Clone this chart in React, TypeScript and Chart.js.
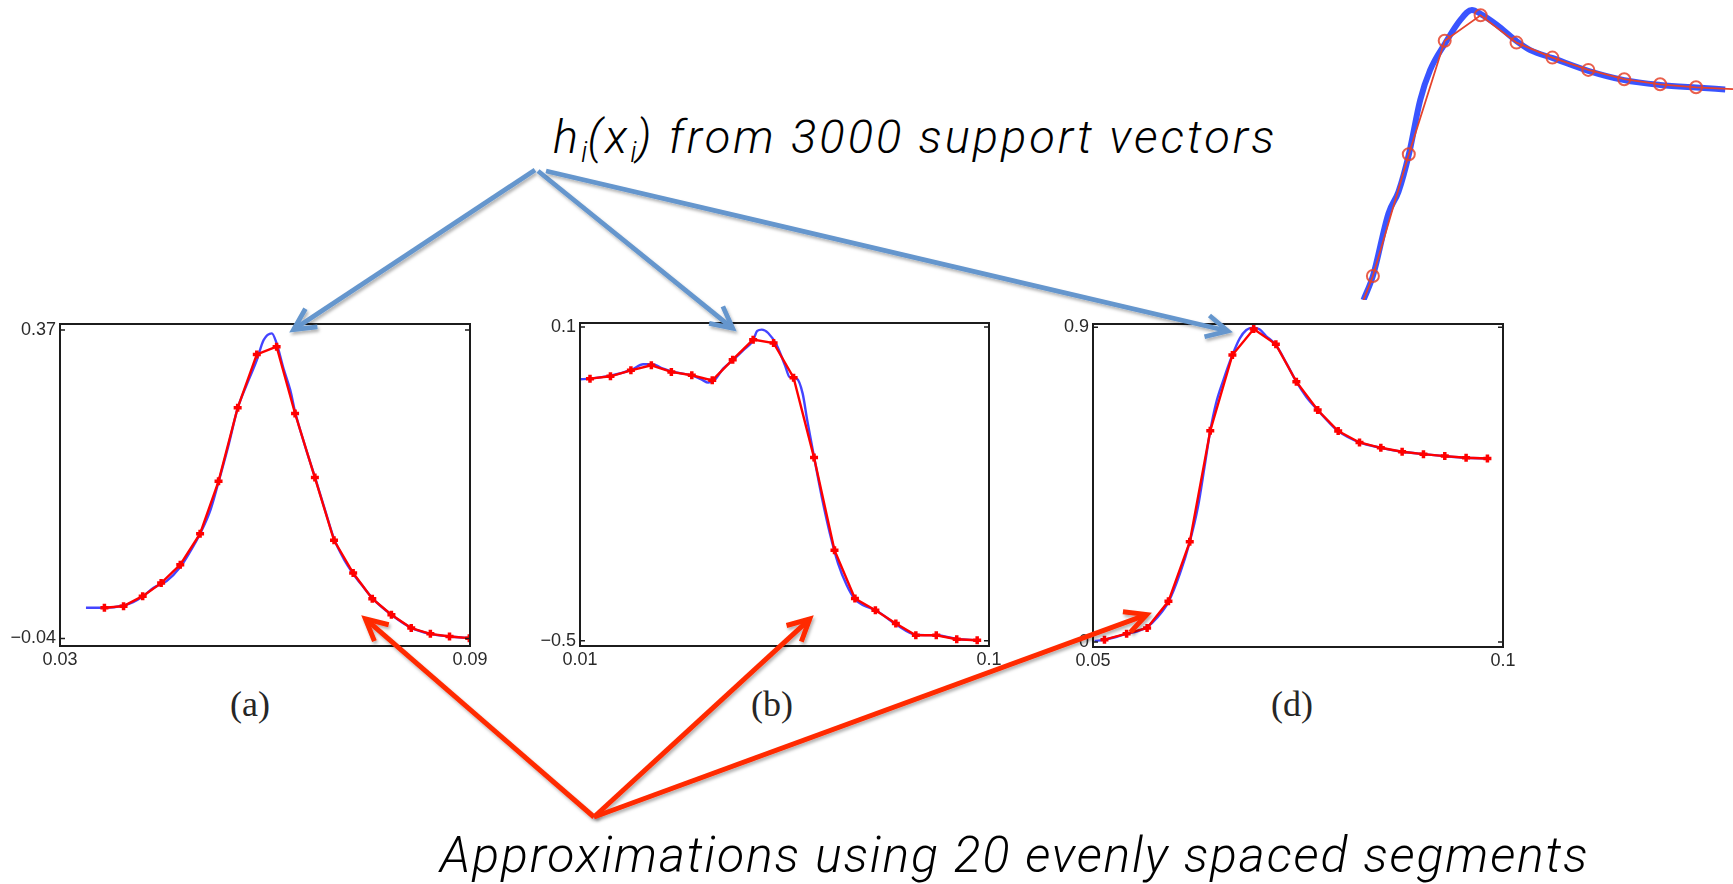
import React, { useEffect, useRef } from "react";
import { Chart, registerables } from "chart.js";

Chart.register(...registerables);

// ---------- Panel (a) ----------
const aBlueX = [0.0338, 0.0365, 0.0393, 0.0407, 0.0421, 0.0437, 0.0456, 0.0476, 0.049, 0.0505, 0.052, 0.0532, 0.0546, 0.056, 0.0573, 0.0588, 0.0598, 0.061, 0.0617, 0.0627, 0.0637, 0.0644, 0.0659, 0.0673, 0.0688, 0.0701, 0.0715, 0.0729, 0.0744, 0.0757, 0.0785, 0.0814, 0.0842, 0.087, 0.0899];
const aBlueY = [0.0007, 0.0007, 0.0038, 0.0083, 0.0158, 0.0273, 0.0362, 0.0549, 0.0748, 0.0993, 0.1303, 0.168, 0.2147, 0.2657, 0.2968, 0.3301, 0.3567, 0.3656, 0.3522, 0.319, 0.2901, 0.2613, 0.2147, 0.1747, 0.1303, 0.0926, 0.066, 0.046, 0.0282, 0.0136, -0.0086, -0.0259, -0.0339, -0.0375, -0.0397];
const aRedX = [0.0365, 0.0393, 0.0421, 0.0448, 0.0476, 0.0505, 0.0532, 0.056, 0.0588, 0.0617, 0.0644, 0.0673, 0.0701, 0.0729, 0.0757, 0.0785, 0.0814, 0.0842, 0.087, 0.0899];
const aRedY = [0.0007, 0.0029, 0.0162, 0.0335, 0.058, 0.0992, 0.1689, 0.2666, 0.3376, 0.3478, 0.259, 0.1738, 0.0904, 0.0469, 0.0127, -0.0086, -0.0263, -0.0339, -0.0375, -0.0397];
const aXTicks = [0.03, 0.09];
const aYTicks = [-0.04, 0.37];

// ---------- Panel (b) ----------
const bBlueX = [0.01, 0.0122, 0.0167, 0.0214, 0.0239, 0.0259, 0.0283, 0.0303, 0.0347, 0.0368, 0.0382, 0.0397, 0.0415, 0.0436, 0.0459, 0.0481, 0.049, 0.05, 0.0514, 0.0533, 0.0551, 0.0561, 0.0577, 0.059, 0.06, 0.0613, 0.0632, 0.065, 0.0668, 0.0687, 0.0704, 0.0723, 0.0751, 0.0795, 0.0839, 0.0885, 0.0929, 0.0974];
const bBlueY = [-0.0001, 0.0012, 0.0069, 0.0184, 0.0286, 0.0286, 0.0203, 0.0146, 0.0069, -0.0007, -0.0064, -0.0007, 0.0203, 0.0363, 0.0554, 0.0745, 0.0924, 0.0949, 0.0885, 0.0649, 0.0267, 0.0044, 0.0012, -0.0275, -0.0785, -0.139, -0.225, -0.2952, -0.3525, -0.3939, -0.4194, -0.4322, -0.4417, -0.4685, -0.4883, -0.4895, -0.4966, -0.4991];
const bRedX = [0.0122, 0.0167, 0.0212, 0.0257, 0.0301, 0.0346, 0.0391, 0.0436, 0.0481, 0.0526, 0.057, 0.0615, 0.066, 0.0705, 0.075, 0.0795, 0.0839, 0.0884, 0.0929, 0.0974];
const bRedY = [0.0012, 0.0057, 0.0171, 0.0267, 0.014, 0.0076, -0.002, 0.0375, 0.0758, 0.0694, 0.0031, -0.1498, -0.327, -0.4194, -0.4417, -0.4672, -0.4895, -0.4895, -0.4972, -0.4991];
const bXTicks = [0.01, 0.1];
const bYTicks = [-0.5, 0.1];

// ---------- Panel (d) ----------
const dBlueX = [0.0502, 0.0514, 0.0528, 0.0541, 0.0554, 0.0566, 0.0579, 0.0592, 0.0606, 0.0618, 0.0628, 0.0636, 0.0643, 0.065, 0.0659, 0.067, 0.0679, 0.0687, 0.0695, 0.0703, 0.0711, 0.0723, 0.0736, 0.0748, 0.076, 0.0774, 0.0787, 0.0799, 0.0825, 0.0851, 0.0877, 0.0903, 0.0929, 0.0955, 0.0981];
const dBlueY = [0.0031, 0.0069, 0.0145, 0.024, 0.0307, 0.0431, 0.0718, 0.1147, 0.1958, 0.2865, 0.3866, 0.5011, 0.6042, 0.6824, 0.7492, 0.8208, 0.8685, 0.8924, 0.899, 0.8943, 0.8752, 0.8494, 0.7969, 0.7445, 0.7015, 0.6634, 0.63, 0.6032, 0.5708, 0.5555, 0.5441, 0.5374, 0.5317, 0.5269, 0.525];
const dRedX = [0.0514, 0.0541, 0.0566, 0.0592, 0.0618, 0.0643, 0.067, 0.0696, 0.0723, 0.0748, 0.0774, 0.0799, 0.0825, 0.0851, 0.0877, 0.0903, 0.0929, 0.0955, 0.0981];
const dRedY = [0.0069, 0.024, 0.0403, 0.1166, 0.2865, 0.6042, 0.8208, 0.8952, 0.8513, 0.7445, 0.6634, 0.6032, 0.5708, 0.5555, 0.5441, 0.5374, 0.5317, 0.5269, 0.525];
const dXTicks = [0.05, 0.1];
const dYTicks = [0, 0.9];

// ---------- Magnified inset (top right) ----------
const insetBlueX = [0.738, 1.0, 1.434, 1.713, 2.003, 2.318, 2.596, 3.014, 3.432, 3.758, 4.008, 4.454, 5.02, 5.382, 6.014, 6.997, 8.0, 9.003, 10.006, 10.813];
const insetBlueY = [0, 0.08, 0.289, 0.361, 0.486, 0.667, 0.767, 0.856, 0.933, 0.967, 0.953, 0.917, 0.861, 0.833, 0.806, 0.764, 0.733, 0.717, 0.708, 0.702];
const insetRedX = [0.74, 1, 2, 3, 4, 5, 6, 7, 8, 9, 10, 11.03];
const insetRedY = [0, 0.08, 0.486, 0.864, 0.949, 0.858, 0.808, 0.767, 0.736, 0.719, 0.709, 0.703];

const zip = (xs: number[], ys: number[]) => xs.map((x, i) => ({ x, y: ys[i] }));
const fmt = (v: number) => (v < 0 ? "\u2212" + String(Math.abs(v)) : String(v));

const framePlugin = {
  id: "frame",
  afterDatasetsDraw(chart: any) {
    const { ctx, chartArea, scales } = chart;
    const { left, top, right, bottom } = chartArea;
    ctx.save();
    ctx.strokeStyle = "#1c1c1c";
    ctx.lineWidth = 2;
    ctx.strokeRect(left, top, right - left, bottom - top);
    ctx.lineWidth = 1.5;
    scales.y.ticks.forEach((t: any) => {
      const y = scales.y.getPixelForValue(t.value);
      ctx.beginPath();
      ctx.moveTo(left, y);
      ctx.lineTo(left + 5, y);
      ctx.moveTo(right, y);
      ctx.lineTo(right - 5, y);
      ctx.stroke();
    });
    scales.x.ticks.forEach((t: any) => {
      const x = scales.x.getPixelForValue(t.value);
      ctx.beginPath();
      ctx.moveTo(x, bottom);
      ctx.lineTo(x, bottom - 5);
      ctx.moveTo(x, top);
      ctx.lineTo(x, top + 5);
      ctx.stroke();
    });
    ctx.restore();
  },
};

type Panel = {
  blueX: number[]; blueY: number[]; redX: number[]; redY: number[];
  xTicks: number[]; yTicks: number[];
  xMin: number; xMax: number; yMin: number; yMax: number;
  left: number; top: number; width: number; height: number; padTop: number;
};

const tickFont = { family: "'Liberation Sans', Arial, sans-serif", size: 18 };

function panelConfig(p: Panel): any {
  return {
    type: "line",
    data: {
      datasets: [
        {
          data: zip(p.redX, p.redY),
          borderColor: "#ff0000",
          borderWidth: 2.4,
          tension: 0,
          pointStyle: "cross",
          pointRadius: 4,
          pointBorderWidth: 3.5,
          pointBorderColor: "#ff0000",
          pointBackgroundColor: "#ff0000",
          fill: false,
        },
        {
          data: zip(p.blueX, p.blueY),
          borderColor: "rgba(35,35,255,0.85)",
          borderWidth: 2.4,
          pointRadius: 0,
          cubicInterpolationMode: "monotone",
          fill: false,
        },
      ],
    },
    options: {
      animation: false,
      responsive: false,
      events: [],
      layout: { padding: { top: p.padTop, right: 30, left: 0, bottom: 0 } },
      plugins: { legend: { display: false }, tooltip: { enabled: false } },
      scales: {
        x: {
          type: "linear",
          min: p.xMin,
          max: p.xMax,
          grid: { display: false, drawTicks: false },
          border: { display: false },
          afterBuildTicks: (s: any) => { s.ticks = p.xTicks.map((v) => ({ value: v })); },
          afterFit: (s: any) => { s.height = 30; },
          ticks: { padding: 3, maxRotation: 0, autoSkip: false, font: tickFont, color: "#2a2a2a", callback: fmt },
        },
        y: {
          type: "linear",
          min: p.yMin,
          max: p.yMax,
          grid: { display: false, drawTicks: false },
          border: { display: false },
          afterBuildTicks: (s: any) => { s.ticks = p.yTicks.map((v) => ({ value: v })); },
          afterFit: (s: any) => { s.width = 60; },
          ticks: { padding: 4, autoSkip: false, font: tickFont, color: "#2a2a2a", callback: fmt },
        },
      },
    },
    plugins: [framePlugin],
  };
}

const panels: Panel[] = [
  { blueX: aBlueX, blueY: aBlueY, redX: aRedX, redY: aRedY, xTicks: aXTicks, yTicks: aYTicks,
    xMin: 0.03, xMax: 0.09, yMin: -0.0501, yMax: 0.378, left: 0, top: 300, width: 500, height: 376, padTop: 24 },
  { blueX: bBlueX, blueY: bBlueY, redX: bRedX, redY: bRedY, xTicks: bXTicks, yTicks: bYTicks,
    xMin: 0.01, xMax: 0.1, yMin: -0.5101, yMax: 0.1076, left: 520, top: 300, width: 499, height: 376, padTop: 23 },
  { blueX: dBlueX, blueY: dBlueY, redX: dRedX, redY: dRedY, xTicks: dXTicks, yTicks: dYTicks,
    xMin: 0.05, xMax: 0.1, yMin: -0.0141, yMax: 0.9095, left: 1033, top: 300, width: 500, height: 377, padTop: 24 },
];

function PanelChart({ p }: { p: Panel }) {
  const ref = useRef<HTMLCanvasElement>(null);
  useEffect(() => {
    const c = new Chart(ref.current as HTMLCanvasElement, panelConfig(p));
    return () => c.destroy();
  }, []);
  return (
    <canvas
      ref={ref}
      width={p.width}
      height={p.height}
      style={{ position: "absolute", left: p.left, top: p.top, width: p.width, height: p.height }}
    />
  );
}

function InsetChart() {
  const ref = useRef<HTMLCanvasElement>(null);
  useEffect(() => {
    const c = new Chart(ref.current as HTMLCanvasElement, {
      type: "line",
      data: {
        datasets: [
          {
            data: zip(insetRedX, insetRedY),
            borderColor: "#e5432c",
            borderWidth: 1.8,
            tension: 0,
            pointRadius: insetRedX.map((_, i) => (i === 0 || i === insetRedX.length - 1 ? 0 : 6)),
            pointBorderWidth: 2,
            pointBorderColor: "rgba(229,67,44,0.85)",
            pointBackgroundColor: "rgba(0,0,0,0)",
          },
          {
            data: zip(insetBlueX, insetBlueY),
            borderColor: "rgba(30,60,255,0.88)",
            borderWidth: 6,
            pointRadius: 0,
            cubicInterpolationMode: "monotone",
          },
        ],
      } as any,
      options: {
        animation: false,
        responsive: false,
        events: [],
        layout: { padding: 0 },
        plugins: { legend: { display: false }, tooltip: { enabled: false } },
        scales: {
          x: { type: "linear", min: 0, max: 11.03, display: false },
          y: { type: "linear", min: 0, max: 1, display: false },
        },
      } as any,
    });
    return () => c.destroy();
  }, []);
  return (
    <canvas ref={ref} width={396} height={300}
      style={{ position: "absolute", left: 1337, top: 0, width: 396, height: 300 }} />
  );
}

// Annotation arrows (slide decoration)
const blueArrows = [
  [535, 170, 290, 332],
  [538, 171, 736, 331],
  [546, 171, 1232, 332],
];
const redArrows = [
  [594, 817, 362, 616],
  [594, 817, 813, 616],
  [594, 817, 1151, 613],
];

function Arrow({ a, color, w }: { a: number[]; color: string; w: number }) {
  const [x1, y1, x2, y2] = a;
  const ang = Math.atan2(y1 - y2, x1 - x2);
  const back = w * 0.9;
  const tx = x2 + back * Math.cos(ang);
  const ty = y2 + back * Math.sin(ang);
  const L = 24;
  const h = (27 * Math.PI) / 180;
  const ax = tx + L * Math.cos(ang + h);
  const ay = ty + L * Math.sin(ang + h);
  const bx = tx + L * Math.cos(ang - h);
  const by = ty + L * Math.sin(ang - h);
  return (
    <g filter="url(#shadow)">
      <line x1={x1} y1={y1} x2={tx} y2={ty} stroke={color} strokeWidth={w} />
      <polyline points={`${ax},${ay} ${tx},${ty} ${bx},${by}`} fill="none" stroke={color}
        strokeWidth={w} strokeLinejoin="miter" strokeMiterlimit={10} />
    </g>
  );
}

const slideFont = "Roboto, 'Open Sans', 'Liberation Sans', sans-serif";
const subStyle: React.CSSProperties = { fontSize: "0.62em", position: "relative", top: "0.3em", letterSpacing: 0 };
const capStyle: React.CSSProperties = {
  position: "absolute", width: 100, textAlign: "center", top: 686, lineHeight: 1,
  fontFamily: "'Liberation Serif', 'Times New Roman', serif", fontSize: 36, color: "#262626",
};

export default function App() {
  return (
    <div style={{ position: "absolute", left: 0, top: 0, width: 1733, height: 884, background: "#fff", overflow: "hidden" }}>
      <InsetChart />
      {panels.map((p, i) => <PanelChart key={i} p={p} />)}
      <div style={{ ...capStyle, left: 200 }}>(a)</div>
      <div style={{ ...capStyle, left: 722 }}>(b)</div>
      <div style={{ ...capStyle, left: 1242 }}>(d)</div>
      <div style={{ position: "absolute", left: 553, top: 113, lineHeight: 1, fontFamily: slideFont, fontStyle: "italic", fontWeight: 300, fontSize: 47, letterSpacing: 3, color: "#000", whiteSpace: "nowrap" }}>
        h<span style={subStyle}>i</span>(x<span style={subStyle}>i</span>) from 3000 support vectors
      </div>
      <div style={{ position: "absolute", left: 440, top: 830, lineHeight: 1, fontFamily: slideFont, fontStyle: "italic", fontWeight: 300, fontSize: 50, letterSpacing: 1.85, color: "#000", whiteSpace: "nowrap" }}>
        Approximations using 20 evenly spaced segments
      </div>
      <svg width={1733} height={884} style={{ position: "absolute", left: 0, top: 0, pointerEvents: "none" }}>
        <defs>
          <filter id="shadow" x="-10%" y="-10%" width="120%" height="120%">
            <feDropShadow dx="1.5" dy="2.5" stdDeviation="1.5" floodColor="#000" floodOpacity="0.3" />
          </filter>
        </defs>
        {blueArrows.map((a, i) => <Arrow key={"b" + i} a={a} color="#6596cd" w={4.8} />)}
        {redArrows.map((a, i) => <Arrow key={"r" + i} a={a} color="#ff2a00" w={5} />)}
      </svg>
    </div>
  );
}
